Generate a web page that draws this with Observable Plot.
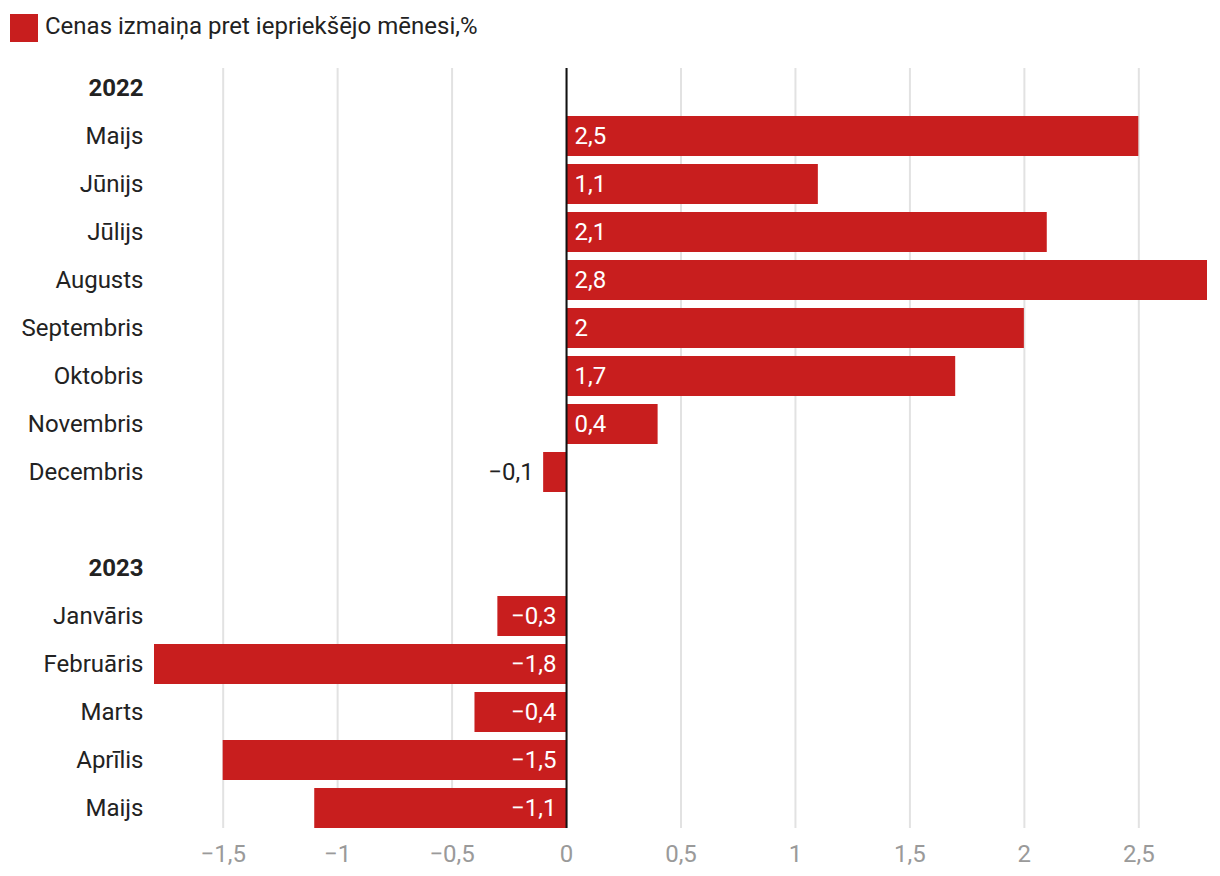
<!DOCTYPE html>
<html>
<head>
<meta charset="utf-8">
<script src="https://cdn.jsdelivr.net/npm/d3@7"></script>
<script src="https://cdn.jsdelivr.net/npm/@observablehq/plot@0.6"></script>
<style>
  html, body { margin: 0; padding: 0; background: #fff; }
  body { font-family: Roboto, "Noto Sans", sans-serif; width: 1220px; }
  #legend { height: 56px; position: relative; }
  #legend .sw { position: absolute; left: 10px; top: 14px; width: 28px; height: 28px; background: #c81e1e; }
  #legend .lb { position: absolute; left: 45px; top: 12px; font-size: 24px; color: #222; line-height: 28px; }
</style>
</head>
<body>
<div id="legend"><span class="sw"></span><span class="lb">Cenas izmaiņa pret iepriekšējo mēnesi,%</span></div>
<div id="chart"></div>
<script>
const years = ["2022", "2023"];
const months2022 = ["Maijs", "Jūnijs", "Jūlijs", "Augusts", "Septembris", "Oktobris", "Novembris", "Decembris"];
const values2022 = [2.5, 1.1, 2.1, 2.8, 2, 1.7, 0.4, -0.1];
const months2023 = ["Janvāris", "Februāris", "Marts", "Aprīlis", "Maijs"];
const values2023 = [-0.3, -1.8, -0.4, -1.5, -1.1];
const xTicks = [-1.5, -1, -0.5, 0, 0.5, 1, 1.5, 2, 2.5];

const fmt = v => (v < 0 ? "\u2212" : "") + String(Math.abs(v)).replace(".", ",");

// Build rows: header rows for years, month rows, and a gap row
const rows = [];
rows.push({key: "y2022", label: years[0], header: true});
months2022.forEach((m, i) => rows.push({key: "2022|" + m, label: m, value: values2022[i]}));
rows.push({key: "gap", label: "", header: true});
rows.push({key: "y2023", label: years[1], header: true});
months2023.forEach((m, i) => rows.push({key: "2023|" + m, label: m, value: values2023[i]}));

const domain = rows.map(d => d.key);
const bars = rows.filter(d => !d.header);
const headers = rows.filter(d => d.header && d.label);

const red = "#c81e1e";
const FS = 24;
const small = d => Math.abs(d.value) < 0.2;

const chart = Plot.plot({
  width: 1220,
  height: 820,
  marginTop: 12,
  marginBottom: 48,
  marginLeft: 154,
  marginRight: 13,
  style: {fontFamily: "Roboto, 'Noto Sans', sans-serif", fontSize: FS + "px", overflow: "visible"},
  x: {domain: [-1.8, 2.8], axis: null, label: null},
  y: {domain, axis: null, paddingInner: 0.167, paddingOuter: 0},
  marks: [
    Plot.gridX(xTicks, {stroke: "#e2e2e2", strokeOpacity: 1, strokeWidth: 2}),
    Plot.axisX(xTicks, {tickSize: 0, tickPadding: 16, tickFormat: fmt, fill: "#9a9a9a", fontSize: FS, label: null}),
    Plot.barX(bars, {x: "value", y: "key", fill: red}),
    Plot.ruleX([0], {stroke: "#111", strokeWidth: 2}),
    // month labels
    Plot.text(bars, {y: "key", text: "label", frameAnchor: "left", textAnchor: "end", dx: -11, fill: "#222", fontSize: FS}),
    // year labels
    Plot.text(headers, {y: "key", text: "label", frameAnchor: "left", textAnchor: "end", dx: -11, fill: "#222", fontSize: FS, fontWeight: 700}),
    // positive value labels inside
    Plot.text(bars.filter(d => d.value >= 0), {x: 0, y: "key", text: d => fmt(d.value), textAnchor: "start", dx: 8, fill: "#fff", fontSize: FS}),
    // negative value labels inside
    Plot.text(bars.filter(d => d.value < 0 && !small(d)), {x: 0, y: "key", text: d => fmt(d.value), textAnchor: "end", dx: -10, fill: "#fff", fontSize: FS}),
    // small negative label outside
    Plot.text(bars.filter(d => d.value < 0 && small(d)), {x: "value", y: "key", text: d => fmt(d.value), textAnchor: "end", dx: -10, fill: "#222", fontSize: FS})
  ]
});
document.getElementById("chart").appendChild(chart);
</script>
</body>
</html>
